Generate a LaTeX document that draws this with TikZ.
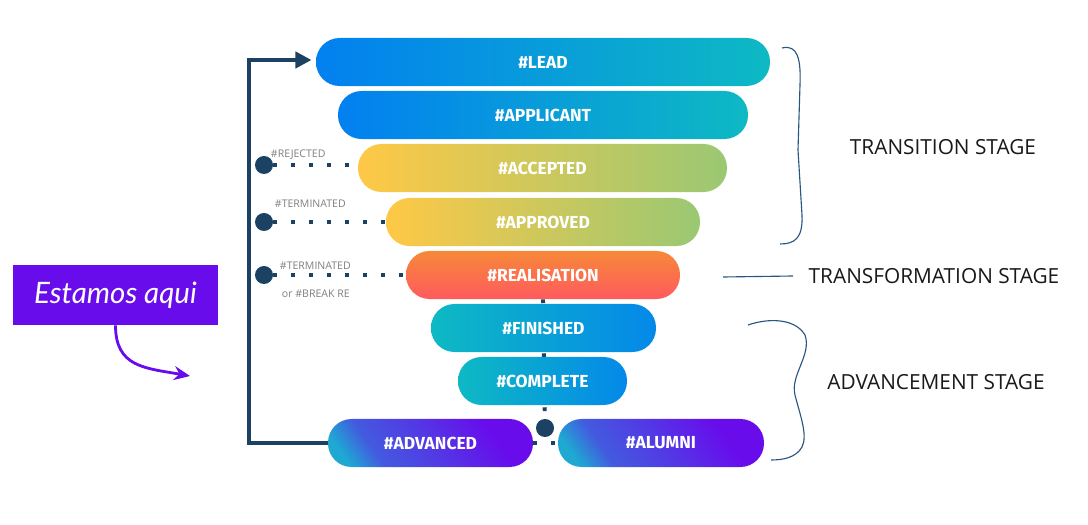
\documentclass[tikz,border=0pt]{standalone}
\usepackage{fontspec}
\setmainfont{Open Sans}
\newfontfamily\pillfont{Fira Sans}
\newfontfamily\notefont{Lato}
\usepackage{tikz}
\usetikzlibrary{arrows.meta,positioning,backgrounds}

\definecolor{navy}{RGB}{27,65,99}
\definecolor{bluea}{RGB}{2,128,240}
\definecolor{blueb}{RGB}{14,185,195}
\definecolor{yellowa}{RGB}{255,200,70}
\definecolor{greenb}{RGB}{154,200,115}
\definecolor{orangea}{RGB}{246,137,56}
\definecolor{corala}{RGB}{255,90,94}
\definecolor{purplea}{RGB}{104,12,236}
\definecolor{tealc}{RGB}{30,168,210}
\definecolor{bracecol}{RGB}{40,85,130}
\pgfdeclarehorizontalshading{advshade}{100bp}{color(0bp)=(tealc); color(22bp)=(tealc);
  color(32bp)=(purplea!50!tealc); color(50bp)=(purplea!72!tealc); color(70bp)=(purplea);
  color(100bp)=(purplea)}

\begin{document}
\begin{tikzpicture}[
  x=0.025cm,
  y=-0.025cm,
  pill/.style={rounded corners=0.59cm, minimum height=1.2cm, inner sep=0pt,
    text=white, font=\pillfont\bfseries\fontsize{12.4}{14}\selectfont},
  bluepill/.style={left color=bluea, right color=blueb},
  yellowpill/.style={left color=yellowa, middle color=yellowa!88!greenb, right color=greenb},
  redpill/.style={top color=orangea, middle color=corala!85!orangea, bottom color=corala},
  tealpill/.style={left color=blueb, right color=bluea!85!blueb},
  purplepill/.style={shading=advshade, shading angle=35},
  hub/.style={circle, fill=navy, minimum size=0.45cm, inner sep=0pt},
  dots/.style={draw=navy, line width=2.8pt, dash pattern=on 2.8pt off 10pt},
  note/.style={font=\fontsize{7.5}{9}\selectfont, text=black!50},
  stage/.style={font=\fontsize{14.8}{17}\selectfont, text=black!90},
  brace/.style={draw=bracecol, line width=0.8pt},
  loopline/.style={draw=navy, line width=2.8pt, -{Triangle[length=4mm, width=4mm]}}
]
\useasboundingbox (0,0) rectangle (1088,525);

% funnel
\foreach \name/\x/\y/\w/\kind/\lab in {
  lead/543/62/454/bluepill/\#LEAD,
  app/543/115/410/bluepill/\#APPLICANT,
  acc/542.5/168/369/yellowpill/\#ACCEPTED,
  apr/543/222/314/yellowpill/\#APPROVED,
  real/543/275/274/redpill/\#REALISATION,
  fin/543.5/328/225/tealpill/\#FINISHED,
  comp/542.5/381/169/tealpill/\#COMPLETE,
  adv/430.5/443/205/purplepill/\#ADVANCED,
  alu/661/443/206/purplepill/\#ALUMNI} {
  \node[pill, \kind, minimum width={\w*0.025cm}] (\name) at (\x,\y) {\lab};
}

% exits
\node[hub] (rej) at (264,165) {};
\node[hub] (ter) at (264,222) {};
\node[hub] (brk) at (264,275) {};
\node[hub] (split) at (545,428) {};
\node[note, anchor=west] (rejl) at (266,155) {\#REJECTED};
\node[note, anchor=west] (terl) at (270,204) {\#TERMINATED};
\node[note, anchor=west] (brkl) at (275,266) {\#TERMINATED};
\node[note, anchor=west] (brkm) at (277,294) {or \#BREAK RE};

\begin{scope}[on background layer]
\fill[white] (0,0) rectangle (1088,525);
\draw[dots] (rej) -- (rej -| acc.west);
\draw[dots] (ter) -- (ter -| apr.west);
\draw[dots] (brk) -- (brk -| real.west);
\draw[dots] (real.south) -- (split);
\draw[dots] (adv.east) -- (alu.west);
\end{scope}

% loop back
\coordinate (cornb) at (249,443);
\coordinate (cornt) at (249,60);
\draw[loopline, shorten >=3pt] (adv.west) -- (cornb) -- (cornt) -- (cornt -| lead.west);

% stages
\node[stage] (trans) at (943,147) {TRANSITION STAGE};
\node[stage] (transf) at (934,276) {TRANSFORMATION STAGE};
\node[stage] (advs) at (936,382) {ADVANCEMENT STAGE};
\draw[brace] (782,48) .. controls (798,44) and (801,60) .. (800,85)
  -- (798,150) -- (802,215) .. controls (803,238) and (795,244) .. (780,244);
\coordinate (tline) at (723,277);
\draw[brace] (tline) -- ++(70,-1);
\draw[brace] (748,325) .. controls (768,318) and (795,318) .. (805,335)
  .. controls (812,355) and (790,375) .. (795,395)
  .. controls (800,415) and (808,435) .. (802,447)
  .. controls (796,458) and (782,460) .. (771,460);

% here
\node[fill=purplea, text=white, minimum width=5.125cm, minimum height=1.5cm,
  font=\notefont\itshape\fontsize{21}{24}\selectfont] (here) at (115.5,295) {Estamos aqui};
\coordinate (herept) at (190,376);
\draw[draw=purplea, line width=2pt, -{Stealth[length=4mm, width=3.5mm]}]
  (here.south) .. controls +(0,42) and +(-45,-8) .. (herept);
\end{tikzpicture}
\end{document}
